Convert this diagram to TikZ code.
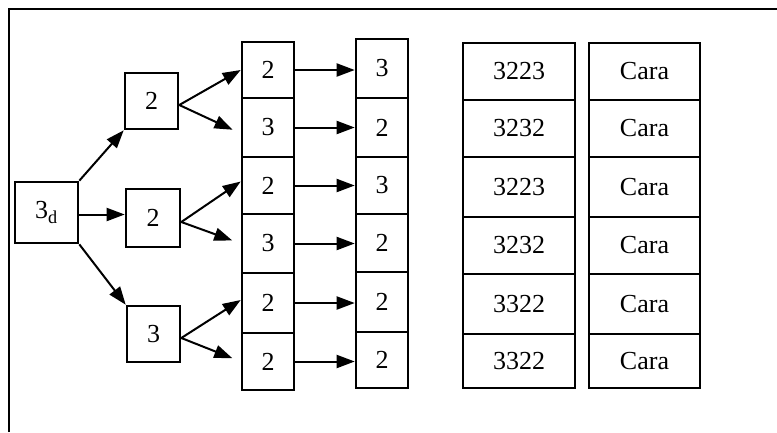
\documentclass[tikz,border=0pt]{standalone}
\usepackage{fontspec}
\setmainfont{Liberation Serif}
\usetikzlibrary{arrows.meta}
\begin{document}
\begin{tikzpicture}[x=1pt,y=-1pt,
  cell/.style={draw,line width=2.6pt,inner sep=0pt,font=\fontsize{26}{30}\selectfont},
  arr/.style={line width=2pt,-{Triangle[length=18pt,width=13pt]}}]
\useasboundingbox (0,0) rectangle (777,432);
\draw[line width=2.6pt] (9,432) -- (9,9) -- (777,9);
% root and second level
\node[cell,minimum width=63pt,minimum height=61pt] (a) at (46.5,212.5) {3\textsubscript{d}};
\node[cell,minimum width=53pt,minimum height=56pt] (b1) at (151.5,101) {2};
\node[cell,minimum width=54pt,minimum height=58pt] (b2) at (153,218) {2};
\node[cell,minimum width=53pt,minimum height=56pt] (b3) at (153.5,334) {3};
% columns
\foreach \i/\ta/\tb/\la/\lb/\na/\nb in
  {1/42/98/39/98/2/3, 2/98/157/98/157/3/2, 3/157/214/157/214/2/3,
   4/214/273/214/272/3/2, 5/273/333/272/332/2/2, 6/333/390/332/388/2/2}{
  \node[cell,minimum width=52pt,minimum height={\tb-\ta}] (c\i) at (268,{(\ta+\tb)/2}) {\na};
  \node[cell,minimum width=52pt,minimum height={\lb-\la}] (d\i) at (382,{(\la+\lb)/2}) {\nb};
}
\foreach \i/\v/\ya/\yb in {1/3223/43/100,2/3232/100/157,3/3223/157/217,4/3232/217/274,5/3322/274/334,6/3322/334/388}{
  \node[cell,minimum width=112pt,minimum height={\yb-\ya}] (e\i) at (519,{(\ya+\yb)/2}) {\v};
  \node[cell,minimum width=111pt,minimum height={\yb-\ya}] (f\i) at (644.5,{(\ya+\yb)/2}) {Cara};
}
% arrows from root
\draw[arr] (a.north east) -- (b1.south west);
\draw[arr] ([yshift=-2pt]a.east) -- ([yshift=-2pt]a.east -| b2.west);
\draw[arr] (a.south east) -- (b3.north west);
% arrows from second level
\draw[arr] ([yshift=-4pt]b1.east) -- (c1.west);
\draw[arr,shorten >=9pt] ([yshift=-4pt]b1.east) -- ([yshift=-6pt]c2.west);
\draw[arr] ([yshift=-4pt]b2.east) -- ([yshift=4pt]c3.west);
\draw[arr,shorten >=9pt] ([yshift=-4pt]b2.east) -- (c4.west);
\draw[arr] ([yshift=-4pt]b3.east) -- ([yshift=3pt]c5.west);
\draw[arr,shorten >=9pt] ([yshift=-4pt]b3.east) -- (c6.west);
% horizontal arrows
\foreach \i in {1,...,6}{\draw[arr] (c\i.east) -- (c\i.east -| d\i.west);}
\end{tikzpicture}
\end{document}
